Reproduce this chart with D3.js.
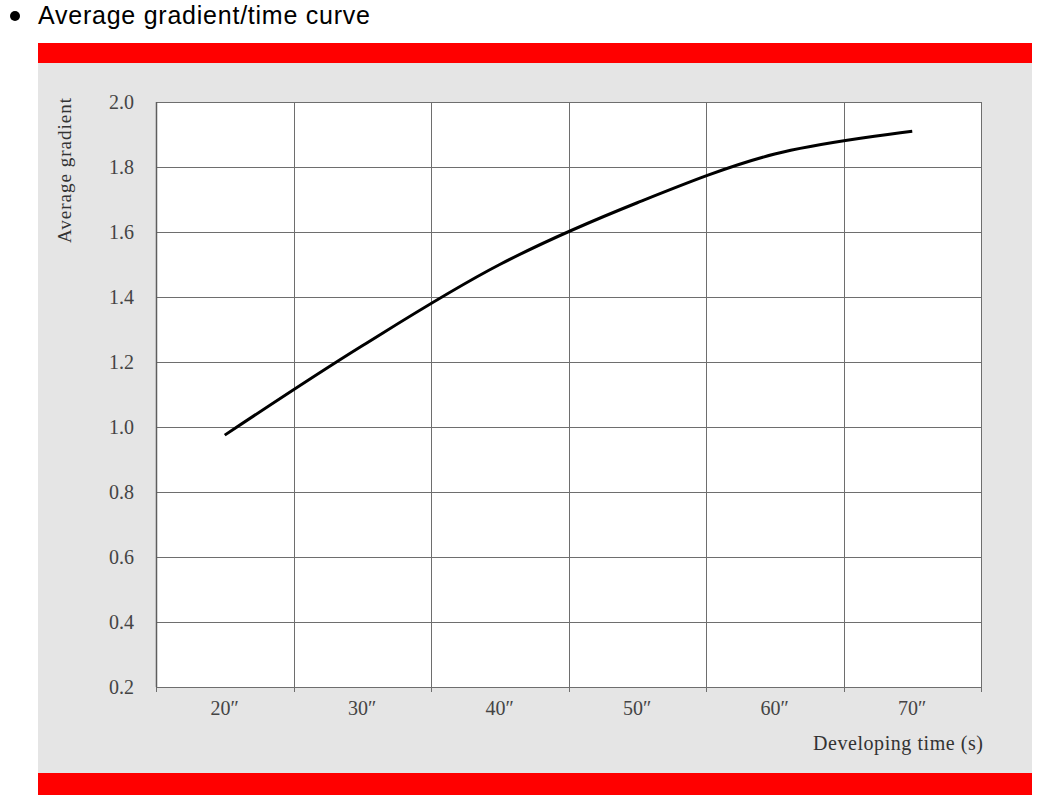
<!DOCTYPE html>
<html>
<head>
<meta charset="utf-8">
<script src="https://cdn.jsdelivr.net/npm/d3@7"></script>
<style>
  html, body { margin: 0; padding: 0; background: #ffffff; }
  svg { display: block; }
</style>
</head>
<body>
<svg id="chart" width="1059" height="809"></svg>
<script>
// ---- data ----
const categories = ["20\u2033", "30\u2033", "40\u2033", "50\u2033", "60\u2033", "70\u2033"];
const avgGradient = [0.975, 1.25, 1.50, 1.69, 1.84, 1.91];
const yTicks = [0.2, 0.4, 0.6, 0.8, 1.0, 1.2, 1.4, 1.6, 1.8, 2.0];
const headingText = "Average gradient/time curve";
const yTitle = "Average gradient";
const xTitle = "Developing time (s)";

// ---- layout ----
const svg = d3.select("#chart");
const plot = { left: 156, right: 981, top: 102, bottom: 687 };

// heading with bullet
svg.append("circle").attr("cx", 15).attr("cy", 16).attr("r", 5).attr("fill", "#000");
svg.append("text")
  .attr("x", 38).attr("y", 24)
  .attr("font-family", "'Liberation Sans', Arial, sans-serif")
  .attr("font-size", 25)
  .attr("textLength", 332)
  .attr("fill", "#000")
  .text(headingText);

// panel
svg.append("rect").attr("x", 38).attr("y", 43).attr("width", 994).attr("height", 752).attr("fill", "#e5e5e5");
svg.append("rect").attr("x", 38).attr("y", 43).attr("width", 994).attr("height", 20).attr("fill", "#ff0000");
svg.append("rect").attr("x", 38).attr("y", 773).attr("width", 994).attr("height", 22).attr("fill", "#ff0000");

// plot background
svg.append("rect")
  .attr("x", plot.left).attr("y", plot.top)
  .attr("width", plot.right - plot.left).attr("height", plot.bottom - plot.top)
  .attr("fill", "#ffffff");

// scales
const x = d3.scaleBand().domain(categories).range([plot.left, plot.right]).padding(0);
const y = d3.scaleLinear().domain([0.2, 2.0]).range([plot.bottom, plot.top]);

const gridColor = "#6e6e6e";

// horizontal grid
svg.append("g").selectAll("line").data(yTicks).join("line")
  .attr("x1", plot.left).attr("x2", plot.right)
  .attr("y1", d => Math.round(y(d)) + 0.5).attr("y2", d => Math.round(y(d)) + 0.5)
  .attr("stroke", gridColor).attr("stroke-width", 1);

// vertical grid (band boundaries) with small outward ticks
const bounds = categories.map(c => x(c)).concat([x.range()[1]]);
svg.append("g").selectAll("line").data(bounds).join("line")
  .attr("x1", d => Math.round(d) + 0.5).attr("x2", d => Math.round(d) + 0.5)
  .attr("y1", plot.top).attr("y2", plot.bottom + 5)
  .attr("stroke", gridColor).attr("stroke-width", 1);

// left border slightly heavier
svg.append("line")
  .attr("x1", plot.left + 0.5).attr("x2", plot.left + 0.5)
  .attr("y1", plot.top).attr("y2", plot.bottom)
  .attr("stroke", "#5e5e5e").attr("stroke-width", 1.5);

// y axis labels
const yAxis = d3.axisLeft(y).tickValues(yTicks).tickFormat(d3.format(".1f")).tickSize(0).tickPadding(22);
const gy = svg.append("g").attr("transform", `translate(${plot.left},0)`).call(yAxis);
gy.select(".domain").remove();
gy.selectAll("text")
  .attr("font-family", "'Liberation Serif', 'Times New Roman', serif")
  .attr("font-size", 20)
  .attr("fill", "#444");

// x axis labels
const xAxis = d3.axisBottom(x).tickSize(0).tickPadding(14);
const gx = svg.append("g").attr("transform", `translate(0,${plot.bottom})`).call(xAxis);
gx.select(".domain").remove();
gx.selectAll("text")
  .attr("font-family", "'Liberation Serif', 'Times New Roman', serif")
  .attr("font-size", 20)
  .attr("fill", "#444");

// axis titles
svg.append("text")
  .attr("transform", "translate(71,170.5) rotate(-90)")
  .attr("text-anchor", "middle")
  .attr("font-family", "'Liberation Serif', 'Times New Roman', serif")
  .attr("font-size", 19)
  .attr("textLength", 145)
  .attr("fill", "#333")
  .text(yTitle);

svg.append("text")
  .attr("x", 983).attr("y", 750)
  .attr("text-anchor", "end")
  .attr("font-family", "'Liberation Serif', 'Times New Roman', serif")
  .attr("font-size", 20)
  .attr("textLength", 170)
  .attr("fill", "#333")
  .text(xTitle);

// curve
const line = d3.line()
  .x((d, i) => x(categories[i]) + x.bandwidth() / 2)
  .y(d => y(d))
  .curve(d3.curveCatmullRom.alpha(0.5));

svg.append("path")
  .datum(avgGradient)
  .attr("d", line)
  .attr("fill", "none")
  .attr("stroke", "#000")
  .attr("stroke-width", 3);
</script>
</body>
</html>
